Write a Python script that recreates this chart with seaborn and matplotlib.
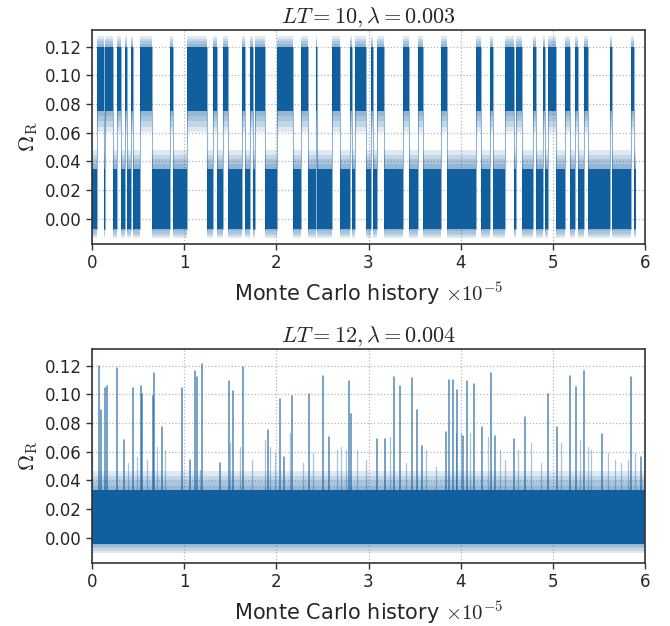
import numpy as np
import pandas as pd
import matplotlib
matplotlib.use("Agg")
import matplotlib.pyplot as plt
import seaborn as sns

# ---------------- data (x in units of 1e5 MC steps) ----------------
# top panel: regime boundaries and states (H = upper plateau, L = lower plateau)
top_edges = [0.000, 0.056, 0.129, 0.140, 0.223, 0.273, 0.310, 0.357, 0.382, 0.419,
             0.440, 0.520, 0.646, 0.845, 0.881, 1.026, 1.249, 1.315, 1.358, 1.423,
             1.477, 1.623, 1.658, 1.713, 1.742, 1.767, 1.875, 2.005, 2.182, 2.273,
             2.345, 2.428, 2.443, 2.599, 2.689, 2.797, 2.819, 2.851, 2.971, 3.025,
             3.050, 3.087, 3.166, 3.375, 3.440, 3.538, 3.592, 3.792, 3.852, 4.164,
             4.226, 4.316, 4.351, 4.478, 4.576, 4.605, 4.663, 4.785, 4.815, 4.894,
             4.912, 4.948, 5.039, 5.129, 5.191, 5.237, 5.273, 5.335, 5.382, 5.617,
             5.646, 5.852, 5.877, 5.907, 5.935, 6.000]
top_states = "LHLHLHLHLHLHLHLHLHLHLHLHLHLHLHLHLHLHLHLHLHLHLHLHLHLHLHLHLHLHLHLHLHLHLHLHL"

# plateau levels: dense core and outer extent of the fluctuations (low, high)
top_core = {"H": (0.075, 0.120), "L": (-0.007, 0.035)}
top_outer = {"H": (0.057, 0.129), "L": (-0.015, 0.051)}

# bottom panel: fluctuating band, large spikes and small spikes
bottom_core = (-0.004, 0.033)
bottom_outer = (-0.012, 0.050)
spike_x = [0.075, 0.097, 0.140, 0.162, 0.270, 0.346, 0.444, 0.530, 0.542, 0.660,
           0.671, 0.758, 0.975, 1.062, 1.116, 1.138, 1.192, 1.387, 1.485, 1.528,
           1.637, 1.908, 2.038, 2.081, 2.168, 2.352, 2.504, 2.569, 2.786, 2.808,
           3.089, 3.176, 3.274, 3.339, 3.469, 3.523, 3.578, 3.838, 3.871, 3.914,
           3.957, 4.022, 4.066, 4.142, 4.229, 4.326, 4.370, 4.576, 4.695, 4.944,
           5.042, 5.183, 5.248, 5.335, 5.530, 5.845, 5.954]
spike_peak = [0.120, 0.089, 0.104, 0.106, 0.118, 0.068, 0.104, 0.106, 0.100, 0.099,
              0.115, 0.077, 0.104, 0.054, 0.116, 0.112, 0.121, 0.052, 0.109, 0.102,
              0.119, 0.075, 0.097, 0.056, 0.099, 0.100, 0.113, 0.070, 0.109, 0.086,
              0.069, 0.069, 0.112, 0.106, 0.111, 0.089, 0.064, 0.074, 0.110, 0.110,
              0.103, 0.071, 0.109, 0.107, 0.077, 0.115, 0.071, 0.069, 0.084, 0.100,
              0.077, 0.113, 0.105, 0.116, 0.072, 0.112, 0.056]
minor_x = [0.002, 0.393, 0.484, 0.592, 0.700, 0.791, 1.170, 1.496, 1.604, 1.731,
           1.875, 1.929, 1.984, 2.146, 2.291, 2.399, 2.653, 2.707, 2.754, 2.870,
           2.978, 3.231, 3.412, 3.629, 3.737, 3.954, 4.009, 4.099, 4.297, 4.424,
           4.478, 4.623, 4.768, 4.876, 5.093, 5.292, 5.382, 5.419, 5.599, 5.671,
           5.744, 5.816, 5.888]
minor_peak = [0.058, 0.052, 0.056, 0.054, 0.063, 0.061, 0.047, 0.066, 0.063, 0.054,
              0.068, 0.063, 0.059, 0.073, 0.052, 0.059, 0.061, 0.063, 0.061, 0.061,
              0.054, 0.070, 0.052, 0.061, 0.049, 0.073, 0.073, 0.073, 0.070, 0.061,
              0.054, 0.061, 0.066, 0.052, 0.066, 0.068, 0.063, 0.061, 0.059, 0.054,
              0.052, 0.054, 0.059]

titles = [r"$LT=10, \lambda=0.003$", r"$LT=12, \lambda=0.004$"]
xticks = [0, 1, 2, 3, 4, 5, 6]
yticks = [0.00, 0.02, 0.04, 0.06, 0.08, 0.10, 0.12]

# ---------------- style ----------------
sns.set_theme(style="ticks")
plt.rcParams["font.family"] = ["DejaVu Sans"]
plt.rcParams["mathtext.fontset"] = "cm"

BLUE = "#0a5a9c"
N_FADE = 5

fig = plt.figure(figsize=(6.70, 6.26), dpi=100)
ax1 = fig.add_axes([92 / 670, 1 - 244 / 626, 553 / 670, 214 / 626])
ax2 = fig.add_axes([92 / 670, 1 - 563 / 626, 553 / 670, 214 / 626])


def style_axis(ax, title):
    ax.set_xlim(0, 6)
    ax.set_ylim(-0.0175, 0.1315)
    ax.set_xticks(xticks)
    ax.set_xticklabels([str(t) for t in xticks])
    ax.set_yticks(yticks)
    ax.set_yticklabels([f"{t:.2f}" for t in yticks])
    ax.tick_params(labelsize=12, length=4, width=1.0, direction="out", color="#333333")
    ax.grid(True, linestyle=":", color="#b5b5b5", linewidth=0.9)
    ax.set_axisbelow(True)
    for s in ax.spines.values():
        s.set_visible(True)
        s.set_color("#333333")
        s.set_linewidth(1.2)
    ax.set_title(title, fontsize=16, pad=5)
    ax.set_xlabel(r"Monte Carlo history $\times 10^{-5}$", fontsize=15, labelpad=6)
    ax.set_ylabel(r"$\Omega_{\mathrm{R}}$", fontsize=16, labelpad=3)


def band(ax, x0, x1, core, outer):
    # soft fade from the outer extent of the fluctuations to the dense core
    for j in range(N_FADE):
        f = (j + 1) / N_FADE
        lo = outer[0] + (core[0] - outer[0]) * f
        hi = outer[1] + (core[1] - outer[1]) * f
        ax.fill_between([x0, x1], lo, hi, color=BLUE, alpha=0.13, lw=0)
    ax.fill_between([x0, x1], core[0], core[1], color=BLUE, alpha=0.93, lw=0)


# ---------------- top panel ----------------
trans_rows = []
for i, st in enumerate(top_states):
    x0, x1 = top_edges[i], top_edges[i + 1]
    band(ax1, x0, x1, top_core[st], top_outer[st])
    if i > 0:
        trans_rows.append({"x": x0, "y": top_core["L"][0], "id": i})
        trans_rows.append({"x": x0, "y": top_core["H"][1], "id": i})
trans = pd.DataFrame(trans_rows)
sns.lineplot(data=trans, x="x", y="y", units="id", estimator=None, sort=False,
             color=BLUE, alpha=0.45, lw=0.8, ax=ax1, legend=False)

# ---------------- bottom panel ----------------
band(ax2, 0, 6, bottom_core, bottom_outer)

minor_rows = []
for k, (sx, sp) in enumerate(zip(minor_x, minor_peak)):
    minor_rows.append({"x": sx, "y": bottom_core[1], "id": k})
    minor_rows.append({"x": sx, "y": sp, "id": k})
sns.lineplot(data=pd.DataFrame(minor_rows), x="x", y="y", units="id", estimator=None,
             sort=False, color=BLUE, alpha=0.35, lw=0.9, ax=ax2, legend=False)

spk_rows = []
for k, (sx, sp) in enumerate(zip(spike_x, spike_peak)):
    spk_rows.append({"x": sx, "y": bottom_core[1], "id": k})
    spk_rows.append({"x": sx, "y": sp, "id": k})
sns.lineplot(data=pd.DataFrame(spk_rows), x="x", y="y", units="id", estimator=None,
             sort=False, color=BLUE, alpha=0.7, lw=1.1, ax=ax2, legend=False)

style_axis(ax1, titles[0])
style_axis(ax2, titles[1])

fig.savefig("out.png", dpi=100)
